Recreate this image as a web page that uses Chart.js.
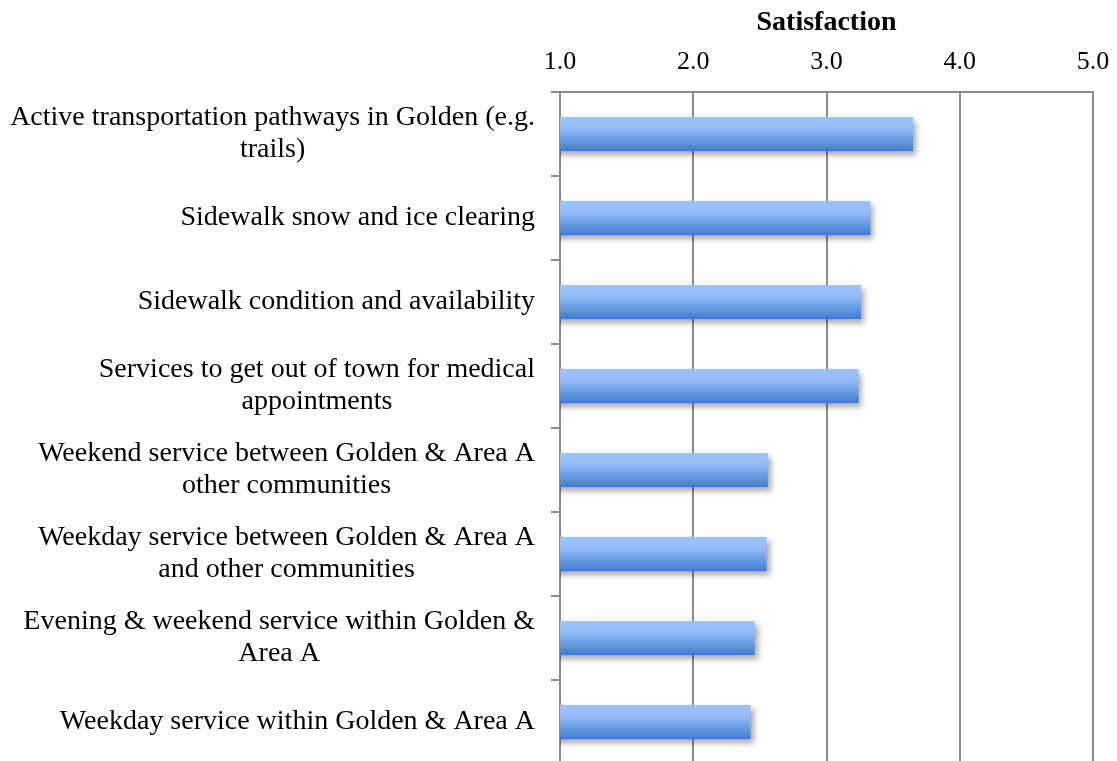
<!DOCTYPE html>
<html>
<head>
<meta charset="utf-8">
<script src="https://cdn.jsdelivr.net/npm/chart.js@4/dist/chart.umd.min.js"></script>
<style>
  html, body { margin: 0; padding: 0; background: #fff; overflow: hidden; }
  #caja { width: 1117px; height: 764px; position: relative; }
</style>
</head>
<body>
<div id="caja"><canvas id="grafico"></canvas></div>
<script>
// Satisfacción con el transporte (escala 1 a 5)
const categorias = [
  ['Active transportation pathways in Golden (e.g.', 'trails)'],
  ['Sidewalk snow and ice clearing'],
  ['Sidewalk condition and availability'],
  ['Services to get out of town for medical', 'appointments'],
  ['Weekend service between Golden & Area A', 'other communities'],
  ['Weekday service between Golden & Area A', 'and other communities'],
  ['Evening & weekend service within Golden &', 'Area A'],
  ['Weekday service within Golden & Area A']
]
const satisfaccion = [3.65, 3.33, 3.26, 3.24, 2.56, 2.55, 2.46, 2.43]
const ticksX = [1, 2, 3, 4, 5]

const GRIS = '#8c8c8c'
const SERIF = "'Liberation Serif', 'Times New Roman', serif"
const TAM_ETIQUETA = 28
const ALTO_LINEA = 32
const PCT_BARRA = 0.405

// Degradado vertical de cada barra (claro arriba, oscuro abajo)
function degradadoBarra(ctx) {
  const chart = ctx.chart
  const y = chart.scales.y
  if (ctx.type !== 'data' || !chart.chartArea || !y) return '#7aa6ee'
  const centro = y.getPixelForValue(ctx.dataIndex)
  const mitad = (y.height / categorias.length) * PCT_BARRA / 2
  const g = chart.ctx.createLinearGradient(0, centro - mitad, 0, centro + mitad)
  g.addColorStop(0, '#9dc3ff')
  g.addColorStop(0.35, '#93baf8')
  g.addColorStop(1, '#3c7ccf')
  return g
}

// Sombra gris debajo de las barras
const sombra = {
  id: 'sombra',
  beforeDatasetsDraw(chart) {
    const ctx = chart.ctx
    ctx.save()
    ctx.shadowColor = 'rgba(0,0,0,0.35)'
    ctx.shadowBlur = 6
    ctx.shadowOffsetX = 3
    ctx.shadowOffsetY = 4
  },
  afterDatasetsDraw(chart) {
    chart.ctx.restore()
  }
}

// Etiquetas del eje Y: bloque alineado a la derecha, líneas centradas entre sí
const etiquetasY = {
  id: 'etiquetasY',
  afterDraw(chart) {
    const { ctx, chartArea } = chart
    const y = chart.scales.y
    ctx.save()
    ctx.font = `${TAM_ETIQUETA}px ${SERIF}`
    ctx.fillStyle = '#000'
    ctx.textAlign = 'center'
    ctx.textBaseline = 'middle'
    chart.data.labels.forEach((lineas, i) => {
      const cy = y.getPixelForValue(i)
      const ancho = Math.max(...lineas.map(l => ctx.measureText(l).width))
      const cx = chartArea.left - 25 - ancho / 2
      lineas.forEach((l, j) => {
        ctx.fillText(l, cx, cy + (j - (lineas.length - 1) / 2) * ALTO_LINEA)
      })
    })
    ctx.restore()
  }
}

new Chart(document.getElementById('grafico'), {
  type: 'bar',
  data: {
    labels: categorias,
    datasets: [{
      label: 'Satisfaction',
      data: satisfaccion,
      backgroundColor: degradadoBarra,
      borderWidth: 0,
      barPercentage: PCT_BARRA,
      categoryPercentage: 1
    }]
  },
  options: {
    indexAxis: 'y',
    responsive: true,
    maintainAspectRatio: false,
    animation: false,
    layout: { padding: { left: 0, right: 24, top: 0, bottom: 0 } },
    plugins: {
      legend: { display: false },
      tooltip: { enabled: false }
    },
    scales: {
      x: {
        position: 'top',
        min: 1,
        max: 5,
        afterBuildTicks: s => { s.ticks = ticksX.map(v => ({ value: v })) },
        afterFit: s => {
          s.height = 92
          s.paddingLeft = 0
          s.paddingRight = 0
        },
        ticks: {
          color: '#000',
          padding: 14,
          font: { family: SERIF, size: 26 },
          callback: v => Number(v).toFixed(1)
        },
        grid: { color: GRIS, lineWidth: 2, drawTicks: false },
        border: { color: GRIS, width: 2 },
        title: {
          display: true,
          text: 'Satisfaction',
          color: '#000',
          font: { family: SERIF, size: 28, weight: 'bold' },
          padding: { top: 6, bottom: 0 }
        }
      },
      y: {
        afterFit: s => { s.width = 560 },
        ticks: { display: false },
        grid: {
          offset: true,
          drawOnChartArea: false,
          drawTicks: true,
          tickLength: 9,
          color: GRIS,
          lineWidth: 2
        },
        border: { color: GRIS, width: 2 }
      }
    }
  },
  plugins: [sombra, etiquetasY]
})
</script>
</body>
</html>
